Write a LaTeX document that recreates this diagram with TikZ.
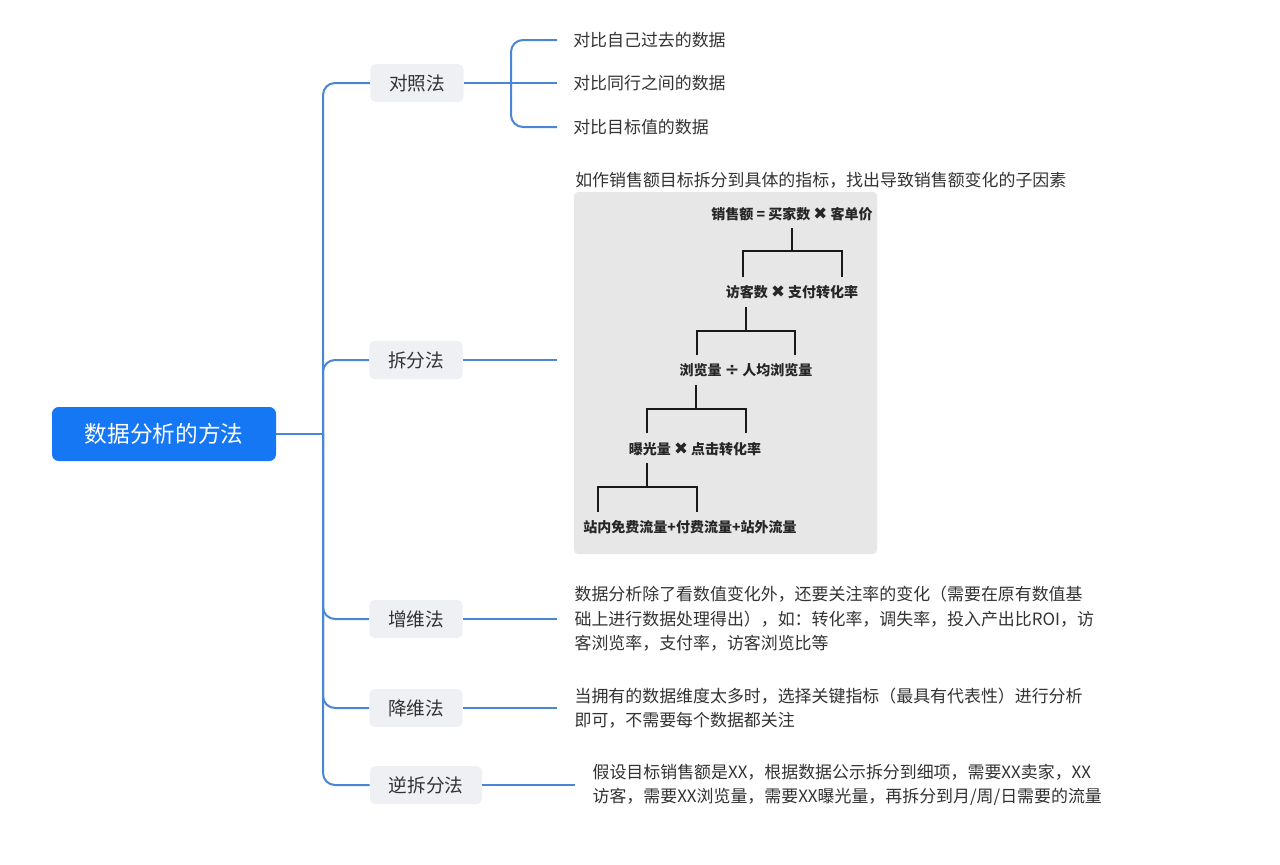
\documentclass[tikz,border=0pt]{standalone}
\usepackage{fontspec}
\setmainfont{Noto Sans CJK SC}
\newfontfamily\symfont{DejaVu Sans}
\usepackage{xcolor}
\definecolor{mapRoot}{HTML}{1677F5}
\definecolor{mapLine}{HTML}{4A86D6}
\definecolor{mapTopic}{HTML}{EFF0F3}
\definecolor{mapText}{HTML}{333333}
\definecolor{mapPanel}{HTML}{E7E7E7}
\usetikzlibrary{positioning}
\newcommand{\timesmark}{{\symfont\fontsize{12.5}{12}\selectfont ✖}}
\newcommand{\divmark}{{\symfont\bfseries\fontsize{13}{12}\selectfont ÷}}

\begin{document}
\begin{tikzpicture}[x=0.75pt, y=-0.75pt,
  topic/.style={fill=mapTopic, rounded corners=4pt, inner xsep=14pt, minimum height=28.5pt, text=mapText, font=\fontsize{14}{16}\selectfont},
  leaf/.style={anchor=west, inner xsep=12pt, inner ysep=0pt, text=mapText, font=\fontsize{12.7}{15}\selectfont},
  note/.style={anchor=west, inner xsep=13pt, inner ysep=0pt, align=left, text=mapText, font=\fontsize{12.7}{18.4}\selectfont},
  factor/.style={inner sep=0pt, text=black!85, font=\fontsize{10.5}{12}\selectfont\bfseries},
  link/.style={mapLine, line width=1.5pt},
  elbow/.style={link, rounded corners=9pt},
  bracket/.style={black!90, line width=1.4pt}]
  \fill[white] (0,0) rectangle (1280,864);
  \useasboundingbox (0,0) rectangle (1280,864);
  % root and main topics
  \node[fill=mapRoot, rounded corners=5pt, minimum width=168pt, minimum height=40.5pt, text=white, font=\fontsize{17}{20}\selectfont] (root) at (164,434) {数据分析的方法};
  \coordinate (trunk) at (323,434);
  \node[topic] (cmp) at (417,83) {对照法};
  \node[topic] (split) at (416,360) {拆分法};
  \node[topic] (addd) at (416,619) {增维法};
  \node[topic] (redd) at (416,708) {降维法};
  \node[topic] (revs) at (426,785) {逆拆分法};
  \draw[link] (root.east) -- (trunk);
  \draw[elbow] (trunk) |- (cmp.west);
  \draw[elbow] (trunk) |- (split.west);
  \draw[elbow] (trunk) |- (addd.west);
  \draw[elbow] (trunk) |- (redd.west);
  \draw[elbow] (trunk) |- (revs.west);
  % comparison leaves
  \node[leaf] (cmpA) at (557,40) {对比自己过去的数据};
  \node[leaf] (cmpB) at (557,83) {对比同行之间的数据};
  \node[leaf] (cmpC) at (557,127) {对比目标值的数据};
  \coordinate (fork) at (511,83);
  \draw[link] (cmp.east) -- (fork);
  \draw[elbow] (fork) |- (cmpA.west);
  \draw[link] (fork) -- (cmpB.west);
  \draw[elbow] (fork) |- (cmpC.west);
  % split method panel
  \node[anchor=west, inner sep=0pt, text=mapText, font=\fontsize{12.7}{15}\selectfont] (splitcap) at (575,180) {如作销售额目标拆分到具体的指标，找出导致销售额变化的子因素};
  \fill[mapPanel, rounded corners=3pt] (574,192) rectangle (877,554);
  \coordinate (panelin) at (557,360);
  \draw[link] (split.east) -- (panelin);
  \node[factor] (t1) at (792,214) {销售额 = 买家数 \timesmark{} 客单价};
  \node[factor] (t2) at (792,292) {访客数 \timesmark{} 支付转化率};
  \node[factor] (t3) at (746,370) {浏览量 \divmark{} 人均浏览量};
  \node[factor] (t4) at (695,449) {曝光量 \timesmark{} 点击转化率};
  \node[factor] (t5) at (690,527) {站内免费流量+付费流量+站外流量};
  \draw[bracket] (792,228) -- (792,251);
  \draw[bracket] (743,277) |- (842,251) -- (842,277);
  \draw[bracket] (746,307) -- (746,331);
  \draw[bracket] (697,355) |- (795,331) -- (795,355);
  \draw[bracket] (696,385) -- (696,409);
  \draw[bracket] (647,433) |- (746,409) -- (746,433);
  \draw[bracket] (647,463) -- (647,487);
  \draw[bracket] (598,512) |- (697,487) -- (697,512);
  % notes
  \node[note] (addn) at (557,619) {数据分析除了看数值变化外，还要关注率的变化（需要在原有数值基\\础上进行数据处理得出），如：转化率，调失率，投入产出比ROI，访\\客浏览率，支付率，访客浏览比等};
  \node[note] (redn) at (557,708) {当拥有的数据维度太多时，选择关键指标（最具有代表性）进行分析\\即可，不需要每个数据都关注};
  \node[note] (revn) at (575,785) {假设目标销售额是XX，根据数据公示拆分到细项，需要XX卖家，XX\\访客，需要XX浏览量，需要XX曝光量，再拆分到月/周/日需要的流量};
  \draw[link] (addd.east) -- (addn.west);
  \draw[link] (redd.east) -- (redn.west);
  \draw[link] (revs.east) -- (revn.west);
\end{tikzpicture}
\end{document}
